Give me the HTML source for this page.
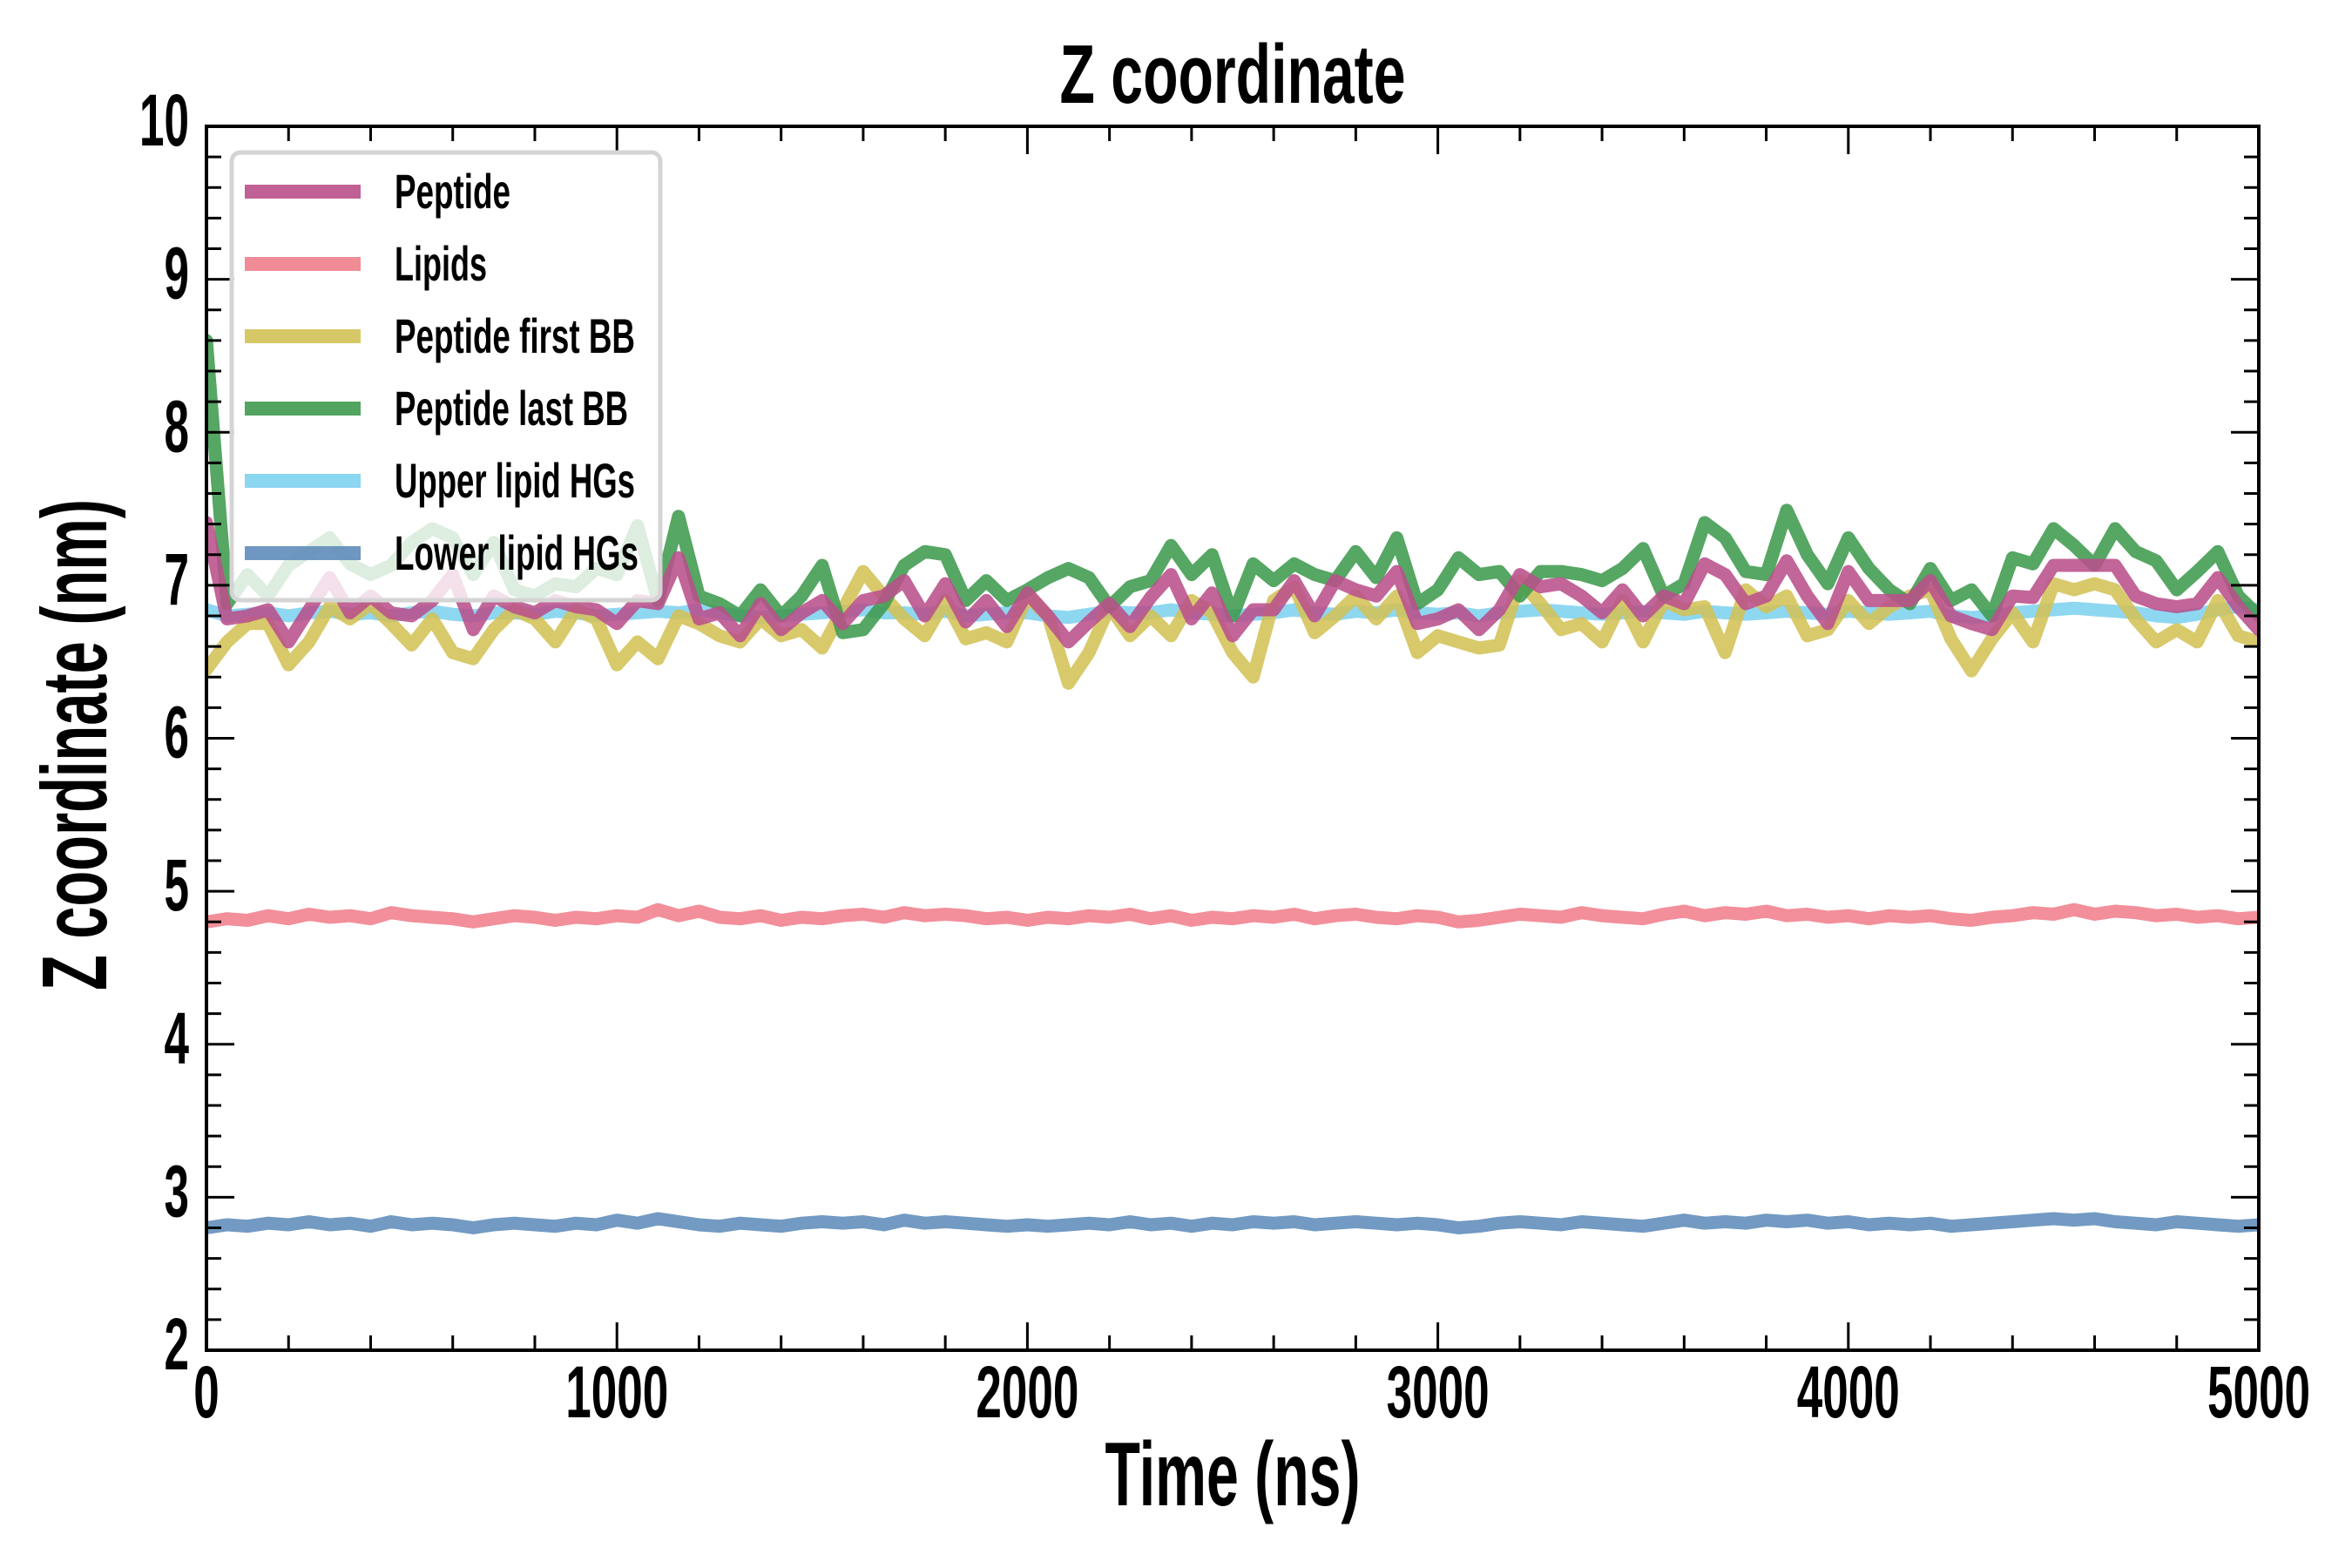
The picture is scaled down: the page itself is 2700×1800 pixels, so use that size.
<!DOCTYPE html>
<html><head><meta charset="utf-8"><style>
html,body{margin:0;padding:0;background:#fff;}
svg{display:block;}
text{font-family:"Liberation Sans Narrow","Liberation Sans",sans-serif;font-weight:bold;fill:#000;}
</style></head><body>
<svg id="chart" width="2700" height="1800" viewBox="0 0 2700 1800">
<g id="plot"></g>
</svg>
<script>
const xTicks=[0,1000,2000,3000,4000,5000];
const yTicks=[2,3,4,5,6,7,8,9,10];
const times=[];for(let i=0;i<=100;i++)times.push(i*50);
const peptide=[7.41,6.78,6.80,6.84,6.63,6.84,7.05,6.82,6.93,6.82,6.80,6.90,7.07,6.71,6.93,6.86,6.82,6.90,6.86,6.84,6.75,6.90,6.88,7.18,6.78,6.82,6.67,6.88,6.71,6.82,6.90,6.75,6.90,6.93,
7.03,6.80,7.01,6.76,6.90,6.73,6.95,6.80,6.63,6.76,6.88,6.73,6.92,7.07,6.78,6.95,6.67,6.84,6.84,7.03,6.80,7.03,6.97,6.93,7.09,6.75,6.78,6.84,6.71,6.84,7.07,6.99,7.01,
6.93,6.82,6.97,6.80,6.93,6.88,7.14,7.07,6.88,6.93,7.16,6.93,6.75,7.09,6.90,6.90,6.90,7.03,6.80,6.75,6.71,6.93,6.92,7.13,7.13,7.13,7.13,6.93,6.88,6.86,6.88,7.05,6.86,6.71];
const firstBB=[6.45,6.63,6.75,6.75,6.48,6.63,6.86,6.78,6.88,6.75,6.61,6.78,6.56,6.52,6.71,6.84,6.78,6.63,6.84,6.78,6.48,6.63,6.52,6.80,6.75,6.67,6.63,6.78,6.67,6.71,6.59,6.84,7.09,6.93,
6.78,6.67,6.90,6.65,6.69,6.63,6.93,6.80,6.36,6.56,6.86,6.67,6.80,6.67,6.90,6.82,6.56,6.40,6.90,6.99,6.69,6.80,6.93,6.78,6.93,6.56,6.67,6.63,6.59,6.61,7.03,6.88,6.71,
6.75,6.63,6.90,6.63,6.90,6.84,6.86,6.56,6.97,6.86,6.93,6.67,6.71,6.90,6.75,6.86,6.93,6.97,6.65,6.44,6.65,6.82,6.63,7.01,6.97,7.01,6.97,6.78,6.63,6.71,6.63,6.90,6.67,6.63];
const lastBB=[8.6,6.88,7.07,6.93,7.13,7.22,7.31,7.14,7.07,7.13,7.28,7.37,7.31,7.07,7.28,6.97,6.93,7.01,6.99,7.11,7.07,7.39,6.90,7.45,6.93,6.88,6.80,6.97,6.80,6.93,7.13,6.69,6.71,6.88,
7.13,7.22,7.20,6.90,7.03,6.90,6.97,7.05,7.11,7.05,6.86,6.99,7.03,7.26,7.07,7.20,6.80,7.14,7.03,7.14,7.07,7.03,7.22,7.05,7.31,6.88,6.97,7.18,7.07,7.09,6.93,7.09,7.09,
7.07,7.03,7.11,7.24,6.93,7.01,7.41,7.31,7.09,7.07,7.49,7.20,7.01,7.31,7.11,6.97,6.88,7.11,6.90,6.97,6.80,7.18,7.14,7.37,7.26,7.13,7.37,7.22,7.16,6.97,7.09,7.22,6.93,6.80];
const upperHG=[6.84,6.80,6.81,6.82,6.80,6.82,6.83,6.81,6.82,6.80,6.82,6.83,6.81,6.80,6.82,6.82,6.81,6.83,6.82,6.80,6.81,6.82,6.83,6.82,6.84,6.82,6.80,6.79,6.80,6.81,6.82,6.83,6.84,6.82,
6.82,6.81,6.83,6.80,6.81,6.82,6.82,6.80,6.79,6.81,6.83,6.82,6.82,6.84,6.82,6.81,6.80,6.81,6.82,6.84,6.82,6.81,6.83,6.82,6.84,6.82,6.81,6.82,6.80,6.82,6.83,6.84,6.83,
6.82,6.81,6.82,6.83,6.82,6.81,6.83,6.82,6.81,6.82,6.83,6.82,6.81,6.83,6.82,6.81,6.82,6.83,6.80,6.79,6.80,6.82,6.83,6.84,6.85,6.84,6.83,6.82,6.80,6.79,6.81,6.84,6.86,6.84];
const lipids=[4.80,4.82,4.81,4.84,4.82,4.85,4.83,4.84,4.82,4.86,4.84,4.83,4.82,4.80,4.82,4.84,4.83,4.81,4.83,4.82,4.84,4.83,4.88,4.84,4.87,4.83,4.82,4.84,4.81,4.83,4.82,4.84,4.85,4.83,
4.86,4.84,4.85,4.84,4.82,4.83,4.81,4.83,4.82,4.84,4.83,4.85,4.82,4.84,4.81,4.83,4.82,4.84,4.83,4.85,4.82,4.84,4.85,4.83,4.82,4.84,4.83,4.80,4.81,4.83,4.85,4.84,4.83,
4.86,4.84,4.83,4.82,4.85,4.87,4.84,4.86,4.85,4.87,4.84,4.85,4.83,4.84,4.82,4.84,4.83,4.84,4.82,4.81,4.83,4.84,4.86,4.85,4.88,4.85,4.87,4.86,4.84,4.85,4.83,4.84,4.82,4.83];
const lowerHG=[2.80,2.82,2.81,2.83,2.82,2.84,2.82,2.83,2.81,2.84,2.82,2.83,2.82,2.80,2.82,2.83,2.82,2.81,2.83,2.82,2.85,2.83,2.86,2.84,2.82,2.81,2.83,2.82,2.81,2.83,2.84,2.83,2.84,2.82,
2.85,2.83,2.84,2.83,2.82,2.81,2.82,2.81,2.82,2.83,2.82,2.84,2.82,2.83,2.81,2.83,2.82,2.84,2.83,2.84,2.82,2.83,2.84,2.83,2.82,2.83,2.82,2.80,2.81,2.83,2.84,2.83,2.82,
2.84,2.83,2.82,2.81,2.83,2.85,2.83,2.84,2.83,2.85,2.84,2.85,2.83,2.84,2.82,2.83,2.82,2.83,2.81,2.82,2.83,2.84,2.85,2.86,2.85,2.86,2.84,2.83,2.82,2.84,2.83,2.82,2.81,2.82];
const seriesNames=["Peptide","Lipids","Peptide first BB","Peptide last BB","Upper lipid HGs","Lower lipid HGs"];

const NS="http://www.w3.org/2000/svg";
const L=237,R=2593,T=145,B=1550;
const X=t=>L+(t-0)/(5000-0)*(R-L);
const Y=v=>B-(v-2)/(10-2)*(B-T);
const svg=document.getElementById('chart');
const plot=document.getElementById('plot');
function mk(tag,attrs,parent){const e=document.createElementNS(NS,tag);for(const k in attrs)e.setAttribute(k,attrs[k]);(parent||svg).appendChild(e);return e;}

const defs=mk('defs',{});
const cp=mk('clipPath',{id:'clip'},defs);mk('rect',{x:L,y:T,width:R-L,height:B-T},cp);
plot.setAttribute('clip-path','url(#clip)');

function drawLine(vals,color,name){
  let d='';vals.forEach((v,i)=>{d+=(i?'L':'M')+X(times[i]).toFixed(1)+','+Y(v).toFixed(1);});
  const p=mk('path',{d:d,fill:'none',stroke:color,'stroke-width':15,'stroke-linejoin':'round','stroke-linecap':'round','stroke-opacity':0.88},plot);
  
  
}
drawLine(upperHG,'#7ed2ef','series-upper-lipid-hgs');
drawLine(lipids,'#f07f8c','series-lipids');
drawLine(lowerHG,'#5f8cba','series-lower-lipid-hgs');
drawLine(firstBB,'#d3c257','series-peptide-first-bb');
drawLine(lastBB,'#3f9a4f','series-peptide-last-bb');
drawLine(peptide,'#b9508b','series-peptide');

const tg=mk('g',{stroke:'#000','stroke-width':3});

for(let t=0;t<=5000;t+=200){const major=t%1000===0;const len=major?32:17;const x=X(t);
  mk('line',{x1:x,y1:B,x2:x,y2:B-len},tg);mk('line',{x1:x,y1:T,x2:x,y2:T+len},tg);}
for(let k=0;k<=40;k++){const v=2+k*0.2;const major=k%5===0;const len=major?32:17;const y=Y(v);
  mk('line',{x1:L,y1:y,x2:L+len,y2:y},tg);mk('line',{x1:R,y1:y,x2:R-len,y2:y},tg);}
const frame=mk('rect',{x:L,y:T,width:R-L,height:B-T,fill:'none',stroke:'#000','stroke-width':4});


xTicks.forEach(t=>{const s=String(t);const e=mk('text',{x:X(t),y:1627,'font-size':84,'text-anchor':'middle',textLength:29.5*s.length,lengthAdjust:'spacingAndGlyphs'});e.textContent=s;
  });
yTicks.forEach(v=>{const s=String(v);const e=mk('text',{x:217,y:Y(v)+22,'font-size':84,'text-anchor':'end',textLength:28.5*s.length,lengthAdjust:'spacingAndGlyphs'});e.textContent=s;
  });

let e=mk('text',{x:1415,y:118,'font-size':96,'text-anchor':'middle',textLength:397,lengthAdjust:'spacingAndGlyphs'});e.textContent='Z coordinate';

e=mk('text',{x:1415,y:1728,'font-size':104,'text-anchor':'middle',textLength:293,lengthAdjust:'spacingAndGlyphs'});e.textContent='Time (ns)';

e=mk('text',{x:0,y:0,'font-size':106,'text-anchor':'middle',textLength:564,lengthAdjust:'spacingAndGlyphs',transform:'translate(122,855) rotate(-90)'});e.textContent='Z coordinate (nm)';


const lg=mk('g',{});
mk('rect',{x:266,y:175,width:492,height:514,rx:10,fill:'#fff','fill-opacity':0.8,stroke:'#d4d4d4','stroke-width':5},lg);
const lcol=['#b9508b','#f07f8c','#d3c257','#3f9a4f','#7ed2ef','#5f8cba'];
const lw=[133,106,276,268,276,280];
seriesNames.forEach((n,i)=>{const y=220+i*83;
  const ln=mk('line',{x1:281,y1:y,x2:414,y2:y,stroke:lcol[i],'stroke-width':16,'stroke-opacity':0.9},lg);
  
  const t=mk('text',{x:453,y:y+19,'font-size':56,textLength:lw[i],lengthAdjust:'spacingAndGlyphs'},lg);t.textContent=n;
  });
</script>
</body></html>
